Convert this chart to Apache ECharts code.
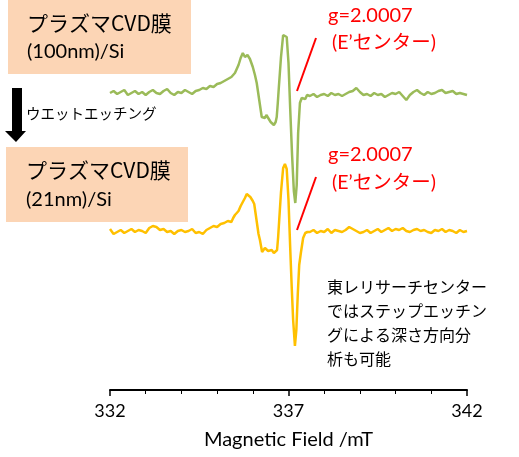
<!DOCTYPE html>
<html>
<head>
<meta charset="utf-8">
<script src="https://cdn.jsdelivr.net/npm/echarts@6/dist/echarts.min.js"></script>
<style>
  html, body { margin: 0; padding: 0; background: #fff; }
  #chart { width: 519px; height: 457px; }
</style>
</head>
<body>
<div id="chart"></div>
<script>
// ESR spectra of a plasma-CVD film on Si, before (100 nm) and after (21 nm) wet etching.
// Field in mT; signal in arbitrary units, relative to each spectrum's own baseline.

const fieldBefore = [
  332.0, 332.1, 332.2, 332.3, 332.4, 332.5, 332.6, 332.7, 332.8, 332.9,
  333.0, 333.1, 333.2, 333.3, 333.4, 333.5, 333.6, 333.7, 333.8, 333.9,
  334.0, 334.1, 334.2, 334.3, 334.4, 334.5, 334.6, 334.7, 334.8, 334.9,
  335.0, 335.1, 335.2, 335.3, 335.4, 335.45, 335.5, 335.55, 335.6, 335.66,
  335.72, 335.78, 335.85, 335.92, 336.0, 336.06, 336.11, 336.18, 336.25, 336.3,
  336.34, 336.38, 336.43, 336.5, 336.55, 336.59, 336.64, 336.67, 336.7, 336.73,
  336.79, 336.85, 336.9, 336.95, 337.0, 337.05, 337.1, 337.15, 337.19, 337.23,
  337.27, 337.32, 337.37, 337.42, 337.47, 337.52,
  337.6, 337.7, 337.8, 337.9, 338.0, 338.1, 338.2, 338.3, 338.4, 338.5,
  338.6, 338.7, 338.8, 338.9, 339.0, 339.1, 339.2, 339.3, 339.4, 339.5,
  339.6, 339.7, 339.8, 339.9, 340.0, 340.1, 340.2, 340.3, 340.4, 340.5,
  340.6, 340.7, 340.8, 340.9, 341.0, 341.1, 341.2, 341.3, 341.4, 341.5,
  341.6, 341.7, 341.8, 341.9, 342.0
];
const signalBefore = [
  0, 2, -1, 1, 3, -2, 0, 2, -1, 1,
  -2, 1, 3, 0, -1, 2, 4, 0, -2, 1,
  0, 3, 1, -1, 2, 3, 5, 4, 7, 6,
  9, 10, 12, 14, 16, 17, 20, 24, 28, 35,
  40, 36, 38, 34, 26, 18, 10, -7, -24, -26,
  -25, -22, -24, -29, -28, -32, -29, -24, -10, 6,
  36, 58, 60, 56, 30, -18, -62, -98, -110, -92,
  -40, -10, -5, -3, -6, -2,
  -3, -1, -4, -2, -1, -3, 0, -2, -1, -3,
  -1, 1, 2, 5, 1, -2, -1, -3, 0, -2,
  -1, -4, -2, 0, -1, 1, -3, -7, -2, 1,
  3, 0, -2, 1, -1, 0, 2, 3, 0, 1,
  2, -1, 0, -1, -2
];

const fieldAfter = [
  332.0, 332.1, 332.2, 332.3, 332.4, 332.5, 332.6, 332.7, 332.8, 332.9,
  333.0, 333.1, 333.2, 333.3, 333.4, 333.5, 333.6, 333.7, 333.8, 333.9,
  334.0, 334.1, 334.2, 334.3, 334.4, 334.5, 334.6, 334.7, 334.8, 334.9,
  335.0, 335.1, 335.2, 335.3, 335.4, 335.45, 335.5, 335.55, 335.6, 335.66,
  335.72, 335.78, 335.83, 335.88, 335.93, 336.0, 336.04, 336.08, 336.12, 336.16,
  336.2, 336.26, 336.3, 336.34, 336.38, 336.43, 336.48, 336.53, 336.59, 336.64,
  336.68, 336.71, 336.74, 336.79, 336.85, 336.9, 336.95, 337.0, 337.05, 337.09,
  337.13, 337.18, 337.22, 337.26, 337.3, 337.35, 337.41, 337.47, 337.53,
  337.6, 337.7, 337.8, 337.9, 338.0, 338.1, 338.2, 338.3, 338.4, 338.5,
  338.6, 338.7, 338.8, 338.9, 339.0, 339.1, 339.2, 339.3, 339.4, 339.5,
  339.6, 339.7, 339.8, 339.9, 340.0, 340.1, 340.2, 340.3, 340.4, 340.5,
  340.6, 340.7, 340.8, 340.9, 341.0, 341.1, 341.2, 341.3, 341.4, 341.5,
  341.6, 341.7, 341.8, 341.9, 342.0
];
const signalAfter = [
  3, -2, 0, 2, -1, 1, 3, 0, 2, 1,
  -1, 4, 6, 5, 2, 3, 0, 1, -2, 1,
  2, 0, 1, 3, -1, 0, -2, 2, 4, 6,
  5, 8, 9, 11, 10, 14, 17, 17, 21, 26,
  30, 34, 38, 36, 35, 31, 28, 18, 8, -2,
  -8, -20, -19, -16, -17, -19, -20, -18, -21, -20,
  -18, -5, 12, 40, 64, 68, 63, 32, -18, -55,
  -88, -114, -98, -62, -33, -20, -6, -1, 0,
  0, 2, -1, 1, 0, 3, -1, 2, 1, 0,
  2, 5, 3, 1, -1, 0, 2, -1, 1, 3,
  0, 2, 4, 1, 3, 2, 4, 1, 0, 2,
  3, 1, 2, 0, -1, 2, 1, 3, 0, 2,
  1, -1, 2, 0, 1
];

// vertical offsets that stack the two spectra
const offsetBefore = 297;
const offsetAfter = 158;

const xTicks = { min: 332, max: 342, step: 5 };

const stacked = (fields, values, offset) => fields.map((f, i) => [f, values[i] + offset]);

const chart = echarts.init(document.getElementById('chart'), null, { renderer: 'canvas' });

const cjk = '"Noto Sans CJK JP", "Noto Sans", sans-serif';
const mixed = 'Lato, "Noto Sans CJK JP", sans-serif';
const latin = 'Lato, "Open Sans", sans-serif';

chart.setOption({
  animation: false,
  backgroundColor: '#ffffff',
  grid: { left: 110, right: 52, top: 0, bottom: 67 },
  xAxis: {
    type: 'value',
    min: xTicks.min,
    max: xTicks.max,
    interval: xTicks.step,
    name: 'Magnetic Field /mT',
    nameLocation: 'middle',
    nameGap: 40,
    nameTextStyle: { fontFamily: latin, fontSize: 20, color: '#000' },
    axisLine: { show: true, lineStyle: { color: '#000', width: 2 } },
    axisTick: { show: true, inside: false, length: 6, lineStyle: { color: '#000', width: 1.5 } },
    minorTick: { show: true, splitNumber: 5, length: 4, lineStyle: { color: '#000', width: 1 } },
    axisLabel: { fontFamily: latin, fontSize: 18, color: '#000', margin: 12 },
    splitLine: { show: false }
  },
  yAxis: {
    type: 'value', min: 0, max: 390, show: false
  },
  series: [
    {
      type: 'line',
      data: stacked(fieldBefore, signalBefore, offsetBefore),
      showSymbol: false,
      lineStyle: { color: '#9BBB59', width: 2.5 },
      z: 3
    },
    {
      type: 'line',
      data: stacked(fieldAfter, signalAfter, offsetAfter),
      showSymbol: false,
      lineStyle: { color: '#FFC000', width: 2.5 },
      z: 2
    }
  ],
  graphic: [
    // sample label: before etching
    { type: 'rect', shape: { x: 8, y: 0, width: 183, height: 74 }, style: { fill: '#FCD5B5' } },
    { type: 'text', style: { x: 27, y: 23, text: 'プラズマCVD膜', fontFamily: cjk, fontSize: 21, fill: '#000', verticalAlign: 'middle' } },
    { type: 'text', style: { x: 27, y: 52, text: '(100nm)/Si', fontFamily: latin, fontSize: 20, fill: '#000', verticalAlign: 'middle' } },
    // etching arrow
    { type: 'polygon', shape: { points: [[12, 88], [22, 88], [22, 131], [26, 131], [16, 142], [5, 131], [12, 131]] }, style: { fill: '#000' } },
    { type: 'text', style: { x: 26, y: 113, text: 'ウエットエッチング', fontFamily: cjk, fontSize: 14.5, fill: '#000', verticalAlign: 'middle' } },
    // sample label: after etching
    { type: 'rect', shape: { x: 6, y: 147, width: 182, height: 75 }, style: { fill: '#FCD5B5' } },
    { type: 'text', style: { x: 26, y: 170, text: 'プラズマCVD膜', fontFamily: cjk, fontSize: 21, fill: '#000', verticalAlign: 'middle' } },
    { type: 'text', style: { x: 26, y: 200, text: '(21nm)/Si', fontFamily: latin, fontSize: 20, fill: '#000', verticalAlign: 'middle' } },
    // E' centre annotations
    { type: 'text', style: { x: 328, y: 16, text: 'g=2.0007', fontFamily: latin, fontSize: 20, fill: '#FF0000', verticalAlign: 'middle' } },
    { type: 'text', style: { x: 332, y: 43, text: '(E’センター)', fontFamily: mixed, fontSize: 19.5, fill: '#FF0000', verticalAlign: 'middle' } },
    { type: 'line', shape: { x1: 316, y1: 38, x2: 297, y2: 91 }, style: { stroke: '#FF0000', lineWidth: 2 } },
    { type: 'text', style: { x: 328, y: 155, text: 'g=2.0007', fontFamily: latin, fontSize: 20, fill: '#FF0000', verticalAlign: 'middle' } },
    { type: 'text', style: { x: 332, y: 183, text: '(E’センター)', fontFamily: mixed, fontSize: 19.5, fill: '#FF0000', verticalAlign: 'middle' } },
    { type: 'line', shape: { x1: 316, y1: 177, x2: 297, y2: 230 }, style: { stroke: '#FF0000', lineWidth: 2 } },
    // note
    { type: 'text', style: { x: 327, y: 275, text: '東レリサーチセンター\nではステップエッチン\nグによる深さ方向分\n析も可能', fontFamily: cjk, fontSize: 16, lineHeight: 24, fill: '#000' } }
  ]
});
</script>
</body>
</html>
